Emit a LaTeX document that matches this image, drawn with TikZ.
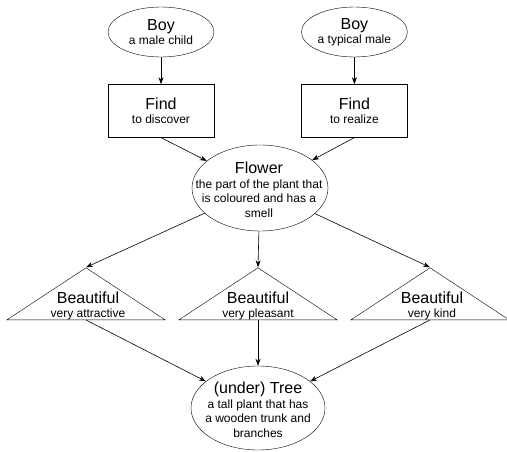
\documentclass[tikz,border=0pt]{standalone}
\usepackage{fontspec}
\setmainfont{Liberation Sans}
\usetikzlibrary{shapes.geometric, arrows.meta, positioning}

\newcommand{\head}[1]{{\fontsize{16}{17}\selectfont #1}}

\begin{document}
\begin{tikzpicture}[x=1pt, y=-1pt, >={Stealth[length=7pt,width=5pt]},
    every node/.style={font=\fontsize{12}{14.5}\selectfont, align=center, inner sep=0pt},
    sense/.style={draw, ellipse, minimum width=106pt, minimum height=50pt},
    verb/.style={draw, rectangle, minimum width=106pt, minimum height=53pt},
    adj/.style={draw, isosceles triangle, shape border rotate=90,
                isosceles triangle stretches, minimum width=158pt, minimum height=52pt},
    link/.style={->, line width=0.6pt}]
    \useasboundingbox (0,0) rectangle (507,452);
    % nouns on top
    \node (boy1) [sense] at (161,32) {\head{Boy}\\a male child};
    \node (boy2) [sense, right=87pt of boy1] {\head{Boy}\\a typical male};
    % verbs
    \node (find1) [verb, below=27pt of boy1] {\head{Find}\\to discover};
    \node (find2) [verb, below=27pt of boy2] {\head{Find}\\to realize};
    % middle noun
    \node (flower) [sense, minimum width=136pt, minimum height=86pt] at (260,188) {};
    \node (flowertxt) at (259,190) {\head{Flower}\\the part of the plant that\\is coloured and has a\\smell};
    % adjectives
    \node (b1) [adj, anchor=lower side] at (86,320)  {};
    \node (b2) [adj, anchor=lower side] at (258,320) {};
    \node (b3) [adj, anchor=lower side] at (430,320) {};
    \node (b1txt) at (88,306)  {\head{Beautiful}\\very attractive};
    \node (b2txt) at (258,306) {\head{Beautiful}\\very pleasant};
    \node (b3txt) at (432,306) {\head{Beautiful}\\very kind};
    % bottom noun
    \node (tree) [sense, minimum width=134pt, minimum height=84pt] at (258,408) {};
    \node (treetxt) at (258,410) {\head{(under) Tree}\\a tall plant that has\\a wooden trunk and\\branches};
    % links
    \draw[link] (boy1) -- (find1);
    \draw[link] (boy2) -- (find2);
    \draw[link] (find1.south) -- (flower);
    \draw[link] (find2.south) -- (flower);
    \draw[link] (flower) -- (b1.apex);
    \draw[link] (flower) -- (b2.apex);
    \draw[link] (flower) -- (b3.apex);
    \draw[link] (b1.lower side) -- (tree);
    \draw[link] (b2.lower side) -- (tree);
    \draw[link] (b3.lower side) -- (tree);
\end{tikzpicture}
\end{document}
